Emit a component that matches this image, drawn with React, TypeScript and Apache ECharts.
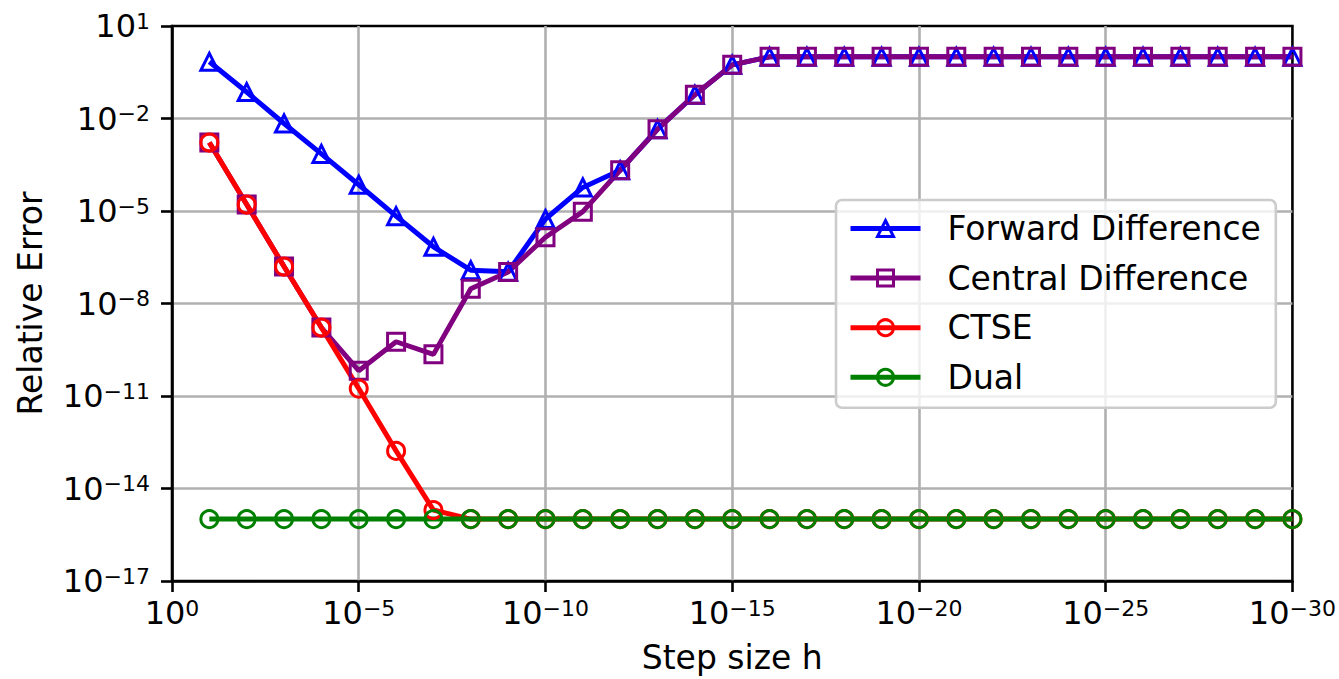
import React, { useEffect, useRef } from 'react';
import * as echarts from 'echarts';

// Step sizes h (x values)
const stepSizes = [
  1e-1, 1e-2, 1e-3, 1e-4, 1e-5, 1e-6, 1e-7, 1e-8, 1e-9, 1e-10,
  1e-11, 1e-12, 1e-13, 1e-14, 1e-15, 1e-16, 1e-17, 1e-18, 1e-19, 1e-20,
  1e-21, 1e-22, 1e-23, 1e-24, 1e-25, 1e-26, 1e-27, 1e-28, 1e-29, 1e-30,
];

const forwardDifference = [
  0.69, 0.072, 6.9e-3, 7.1e-4, 7.1e-5, 6.8e-6, 6.9e-7, 1.2e-7, 1.07e-7, 5.5e-6,
  5.8e-5, 2.1e-4, 4.5e-3, 5.9e-2, 0.55, 1, 1, 1, 1, 1,
  1, 1, 1, 1, 1, 1, 1, 1, 1, 1,
];

const centralDifference = [
  1.66e-3, 1.62e-5, 1.58e-7, 1.66e-9, 6.6e-11, 5.75e-10, 2.24e-10, 3.0e-8, 1.05e-7, 1.41e-6,
  9.5e-6, 2.1e-4, 4.5e-3, 5.9e-2, 0.55, 1, 1, 1, 1, 1,
  1, 1, 1, 1, 1, 1, 1, 1, 1, 1,
];

const ctse = [
  1.66e-3, 1.62e-5, 1.58e-7, 1.66e-9, 1.74e-11, 1.66e-13, 2.0e-15, 1.02e-15, 1.02e-15, 1.02e-15,
  1.02e-15, 1.02e-15, 1.02e-15, 1.02e-15, 1.02e-15, 1.02e-15, 1.02e-15, 1.02e-15, 1.02e-15, 1.02e-15,
  1.02e-15, 1.02e-15, 1.02e-15, 1.02e-15, 1.02e-15, 1.02e-15, 1.02e-15, 1.02e-15, 1.02e-15, 1.02e-15,
];

const dual = [
  1.02e-15, 1.02e-15, 1.02e-15, 1.02e-15, 1.02e-15, 1.02e-15, 1.02e-15, 1.02e-15, 1.02e-15, 1.02e-15,
  1.02e-15, 1.02e-15, 1.02e-15, 1.02e-15, 1.02e-15, 1.02e-15, 1.02e-15, 1.02e-15, 1.02e-15, 1.02e-15,
  1.02e-15, 1.02e-15, 1.02e-15, 1.02e-15, 1.02e-15, 1.02e-15, 1.02e-15, 1.02e-15, 1.02e-15, 1.02e-15,
];

// Tick exponents (labels are 10^e); axes are drawn in log10 space
const xTickExponents = [0, -5, -10, -15, -20, -25, -30];
const yTickExponents = [1, -2, -5, -8, -11, -14, -17];

const FONT = 'DejaVu Sans';

const expLabel = (v: number, allowed: number[]) => {
  const e = Math.round(v);
  if (!allowed.includes(e)) return '';
  const s = e < 0 ? '\u2212' + String(-e) : String(e);
  return `{b|10}{s|${s}}`;
};

const richX = {
  b: { fontSize: 32, fontFamily: FONT, color: '#000', lineHeight: 32 },
  s: { fontSize: 22, fontFamily: FONT, color: '#000', lineHeight: 16, verticalAlign: 'top' },
};
const richY = {
  b: { fontSize: 32, fontFamily: FONT, color: '#000', lineHeight: 32 },
  s: { fontSize: 22, fontFamily: FONT, color: '#000', lineHeight: 18, verticalAlign: 'top' },
};

const seriesDefs = [
  { name: 'Forward Difference', data: forwardDifference, color: '#0000ff', symbol: 'triangle', size: 17 },
  { name: 'Central Difference', data: centralDifference, color: '#800080', symbol: 'rect', size: 17 },
  { name: 'CTSE', data: ctse, color: '#ff0000', symbol: 'circle', size: 17 },
  { name: 'Dual', data: dual, color: '#008000', symbol: 'circle', size: 17 },
];

export default function App() {
  const ref = useRef<HTMLDivElement>(null);
  useEffect(() => {
    if (!ref.current) return;
    const chart = echarts.init(ref.current, undefined, { renderer: 'svg' });
    const axisLineStyle = { color: '#000', width: 2.6 };
    const gridLineStyle = { color: '#b0b0b0', width: 2.6 };
    chart.setOption({
      animation: false,
      backgroundColor: '#ffffff',
      grid: {
        left: 172,
        right: 46,
        top: 26,
        bottom: 95,
        containLabel: false,
        show: true,
        borderColor: '#000',
        borderWidth: 2.6,
        backgroundColor: 'transparent',
      },
      legend: {
        orient: 'vertical',
        left: 836,
        top: 200,
        padding: [12, 15, 14, 12],
        itemWidth: 70,
        itemHeight: 20,
        itemGap: 16.6,
        backgroundColor: 'rgba(255,255,255,0.8)',
        borderColor: '#cccccc',
        borderWidth: 2.6,
        borderRadius: 6,
        lineStyle: { width: 5 },
        itemStyle: { borderWidth: 3 },
        textStyle: {
          fontSize: 33,
          fontFamily: FONT,
          color: '#000',
          lineHeight: 33,
          padding: [0, 0, 0, 22],
        },
        data: seriesDefs.map((s) => s.name),
      },
      xAxis: {
        type: 'value',
        min: -30,
        max: 0,
        interval: 5,
        inverse: true,
        name: 'Step size h',
        nameLocation: 'middle',
        nameGap: 60,
        nameTextStyle: { fontSize: 33, fontFamily: FONT, color: '#000' },
        axisLine: { show: true, onZero: false, lineStyle: axisLineStyle },
        axisTick: { show: true, length: 11, inside: false, lineStyle: axisLineStyle },
        axisLabel: {
          margin: 16,
          formatter: (v: number) => expLabel(v, xTickExponents),
          rich: richX,
        },
        splitLine: { show: true, showMinLine: false, showMaxLine: false, lineStyle: gridLineStyle },
      },
      yAxis: {
        type: 'value',
        min: -17,
        max: 1,
        interval: 3,
        name: 'Relative Error',
        nameLocation: 'middle',
        nameGap: 125,
        nameTextStyle: { fontSize: 33, fontFamily: FONT, color: '#000' },
        axisLine: { show: true, onZero: false, lineStyle: axisLineStyle },
        axisTick: { show: true, length: 11, inside: false, lineStyle: axisLineStyle },
        axisLabel: {
          margin: 22,
          formatter: (v: number) => expLabel(v, yTickExponents),
          rich: richY,
        },
        splitLine: { show: true, showMinLine: false, showMaxLine: false, lineStyle: gridLineStyle },
      },
      series: seriesDefs.map((s) => ({
        type: 'line',
        name: s.name,
        data: stepSizes.map((h, i) => [Math.log10(h), Math.log10(s.data[i])]),
        symbol: s.symbol,
        symbolSize: s.size,
        showSymbol: true,
        showAllSymbol: true,
        clip: true,
        lineStyle: { color: s.color, width: 5 },
        itemStyle: { color: 'rgba(0,0,0,0)', borderColor: s.color, borderWidth: 3 },
        emphasis: { disabled: true },
      })),
    });
    return () => chart.dispose();
  }, []);
  return (
    <div
      ref={ref}
      style={{ position: 'fixed', left: 0, top: 0, width: 1339, height: 679, background: '#fff' }}
    />
  );
}
